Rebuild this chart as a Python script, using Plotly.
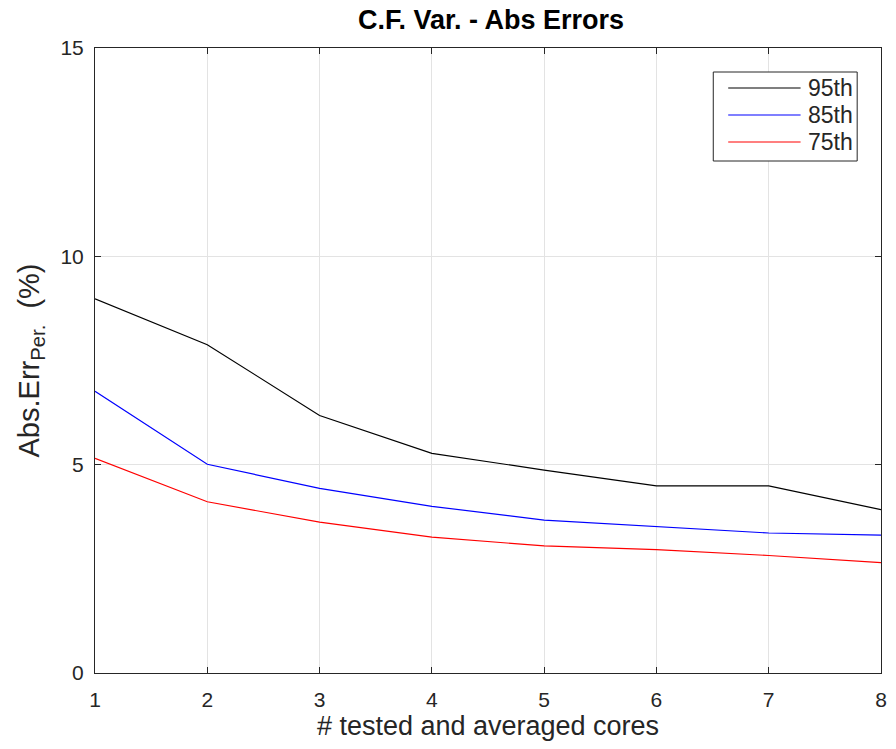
import plotly.graph_objects as go

# number of tested and averaged cores
cores = [1, 2, 3, 4, 5, 6, 7, 8]

# absolute percentage error per percentile
err_95th = [8.98, 7.88, 6.18, 5.27, 4.87, 4.49, 4.49, 3.92]
err_85th = [6.76, 5.01, 4.43, 4.00, 3.67, 3.52, 3.36, 3.31]
err_75th = [5.15, 4.11, 3.62, 3.26, 3.05, 2.96, 2.82, 2.65]

series_names = ["95th", "85th", "75th"]
series_values = [err_95th, err_85th, err_75th]
series_colors = ["#000000", "#0000ff", "#ff0000"]

x_ticks = [1, 2, 3, 4, 5, 6, 7, 8]
y_ticks = [0, 5, 10, 15]

font_family = "Liberation Sans, Arial, Helvetica, sans-serif"
text_color = "#262626"

fig = go.Figure()
for name, vals, color in zip(series_names, series_values, series_colors):
    fig.add_trace(go.Scatter(
        x=cores, y=vals, name=name, mode="lines",
        line=dict(color=color, width=1.2),
        showlegend=False,
    ))

# boxed legend in the upper right corner, with long line samples
box_x0, box_x1 = 0.7866, 0.9697
box_y0, box_y1 = 0.8192, 0.9616
sample_x0, sample_x1 = 0.8056, 0.8977
label_x = 0.9040
row_y = [0.936, 0.8928, 0.8496]

fig.add_shape(type="rect", xref="x domain", yref="y domain",
              x0=box_x0, x1=box_x1, y0=box_y0, y1=box_y1,
              line=dict(color=text_color, width=1), fillcolor="white",
              layer="above")
for name, color, ry in zip(series_names, series_colors, row_y):
    fig.add_shape(type="line", xref="x domain", yref="y domain",
                  x0=sample_x0, x1=sample_x1, y0=ry, y1=ry,
                  line=dict(color=color, width=1.2), layer="above")
    fig.add_annotation(xref="x domain", yref="y domain",
                       x=label_x, y=ry, text=name, showarrow=False,
                       xanchor="left", yanchor="middle",
                       font=dict(family=font_family, size=23, color=text_color))

axis_common = dict(
    showline=True, linecolor=text_color, linewidth=1, mirror="ticks",
    ticks="inside", ticklen=6, tickcolor=text_color,
    showgrid=True, gridcolor="#e3e3e3", gridwidth=1,
    zeroline=False,
    tickfont=dict(family=font_family, size=21, color=text_color),
)

fig.update_layout(
    width=896, height=749,
    paper_bgcolor="white", plot_bgcolor="white",
    margin=dict(l=95, r=9, t=48, b=76),
    title=dict(
        text="<b>C.F. Var. - Abs Errors</b>",
        x=(95 + 887) / 2 / 896, xanchor="center",
        y=1 - 20 / 749, yanchor="middle",
        font=dict(family=font_family, size=27, color="#000000"),
    ),
    xaxis=dict(
        range=[1, 8], tickvals=x_ticks,
        ticklabelstandoff=8,
        title=dict(text="# tested and averaged cores",
                   font=dict(family=font_family, size=27, color=text_color),
                   standoff=0),
        **axis_common,
    ),
    yaxis=dict(
        range=[0, 15], tickvals=y_ticks,
        ticklabelstandoff=6,
        title=dict(text="Abs.Err<sub>Per.</sub>  (%)",
                   font=dict(family=font_family, size=29, color=text_color),
                   standoff=12),
        **axis_common,
    ),
    showlegend=False,
)

fig.write_html("out.html")
